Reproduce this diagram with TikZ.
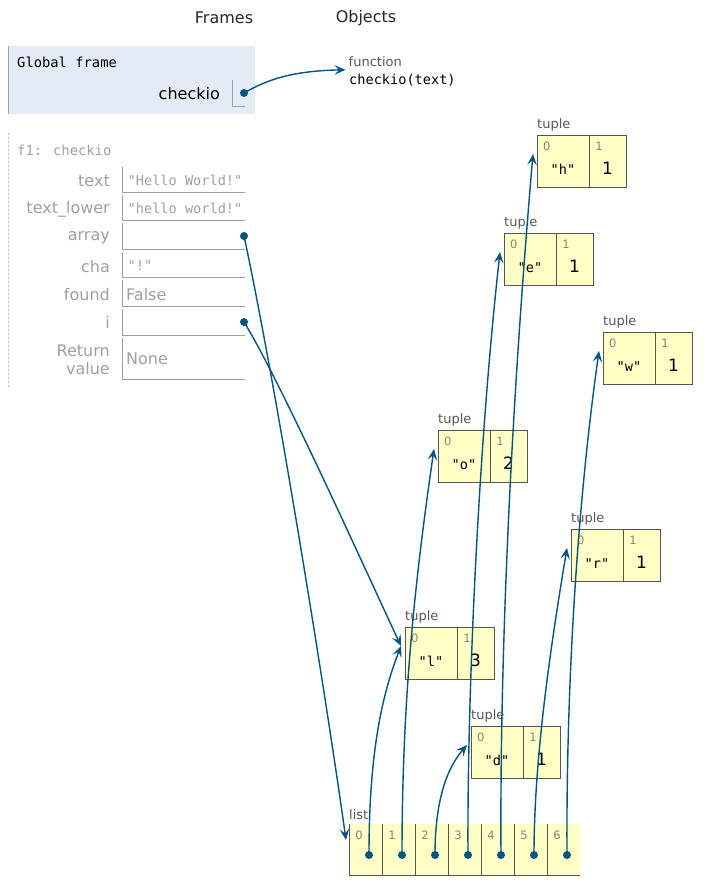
\documentclass[tikz,border=0pt]{standalone}
\usepackage{fontspec}
\setmainfont{DejaVu Sans}
\newfontfamily\monof{DejaVu Sans Mono}
\usetikzlibrary{arrows.meta,calc}
\definecolor{ptrc}{HTML}{005583}
\definecolor{gfbg}{HTML}{E2EBF6}
\definecolor{tfill}{HTML}{FFFFC6}
\definecolor{tborder}{HTML}{555555}
\definecolor{lgray}{HTML}{A0A0A0}
\definecolor{typec}{HTML}{5E5650}
\definecolor{idxc}{HTML}{8A8276}
\newcommand\fs[1]{\fontsize{#1}{#1}\selectfont}
\newcommand\mytup[5]{%
  \node[tbox] (#1) at (#2,#3) {};
  \draw[tline] ($(#1.north west)+(52,0)$) -- ($(#1.south west)+(52,0)$);
  \node[typelab] (#1-lab) at ($(#1.north west)+(0,-7)$) {tuple};
  \node[idx] (#1-i0) at ($(#1.north west)+(9.7,11.7)$) {0};
  \node[idx] (#1-i1) at ($(#1.north west)+(62,11.7)$) {1};
  \node[strv] (#1-v0) at ($(#1.north west)+(26,39)$) {"#4"};
  \node[numv] (#1-v1) at ($(#1.north west)+(70.5,39.5)$) {#5};
  \coordinate (#1-in) at ($(#1.north west)+(-4,19)$);
}
\begin{document}
\begin{tikzpicture}[x=1pt,y=-1pt,
  ptr/.style={draw=ptrc, line width=1.4pt, -{Stealth[length=11pt,width=9.5pt,inset=4.5pt]}},
  dot/.style={circle, fill=ptrc, inner sep=0pt, minimum size=8pt},
  tbox/.style={draw=tborder, fill=tfill, line width=1pt, minimum width=89pt, minimum height=52pt, anchor=north west, inner sep=0pt},
  tline/.style={draw=tborder, line width=1pt},
  vline/.style={draw=lgray, line width=1pt},
  typelab/.style={anchor=base west, inner sep=0pt, text=typec, font=\fs{13}},
  idx/.style={inner sep=0pt, text=idxc, font=\fs{11.5}},
  strv/.style={anchor=base, inner sep=0pt, font=\monof\fs{13.6}},
  numv/.style={anchor=base, inner sep=0pt, font=\fs{17}},
  vlab/.style={anchor=east, inner sep=0pt, text=lgray, font=\fs{16}},
  vvalm/.style={anchor=west, inner sep=0pt, text=lgray, font=\monof\fs{13.6}},
  vvals/.style={anchor=west, inner sep=0pt, text=lgray, font=\fs{16}},
  head/.style={inner sep=0pt, font=\fs{16}, text=black!85}
]
\useasboundingbox (0,0) rectangle (719,889);
\fill[white] (0,0) rectangle (719,889);

% headers
\node[head] (hframes) at (224,18) {Frames};
\node[head] (hobjects) at (366,18) {Objects};

% global frame
\fill[gfbg] (8,46) rectangle (255,114);
\draw[draw=lgray, line width=1pt] (8.5,46) -- (8.5,114);
\node[anchor=west, inner sep=0pt, font=\monof\fs{13.8}] (gtitle) at (17,62.5) {Global frame};
\node[anchor=east, inner sep=0pt, font=\fs{16}] (gchk) at (220,94) {checkio};
\draw[vline] (232.5,80) -- (232.5,106) -- (245,106);
\node[dot] (gdot) at (244,93) {};

% function object
\node[anchor=west, inner sep=0pt, font=\fs{13}, text=typec] (fnlab) at (348.5,61.5) {function};
\node[anchor=west, inner sep=0pt, font=\monof\fs{13.6}] (fnval) at (349,80) {checkio(text)};
\coordinate (fn-in) at ($(fnlab.south west)+(-3,3)$);
\draw[ptr] (gdot.center) .. controls (270,78) and (295,71) .. (fn-in);

% f1 frame
\draw[draw=lgray!70, line width=1pt, dash pattern=on 2pt off 2pt] (8.5,133) -- (8.5,387);
\node[anchor=west, inner sep=0pt, font=\monof\fs{13.8}, text=lgray] (ftitle) at (17,150) {f1: checkio};

\node[vlab] (ltext) at (110,181) {text};
\node[vlab] (llower) at (110,209) {text\_lower};
\node[vlab] (larray) at (110,237.5) {array};
\node[vlab] (lcha) at (110,266.5) {cha};
\node[vlab] (lfound) at (110,294.3) {found};
\node[vlab] (li) at (110,322.5) {i};
\node[vlab, align=right, font=\fontsize{16}{18}\selectfont] (lret) at (110,360) {Return\\value};

\draw[vline] (122.5,167) -- (122.5,192.3) -- (245,192.3);
\draw[vline] (122.5,195) -- (122.5,220.3) -- (245,220.3);
\draw[vline] (122.5,223) -- (122.5,249.3) -- (245,249.3);
\draw[vline] (122.5,251.7) -- (122.5,277.3) -- (245,277.3);
\draw[vline] (122.5,280) -- (122.5,306) -- (245,306);
\draw[vline] (122.5,308.7) -- (122.5,335.3) -- (245,335.3);
\draw[vline] (122.5,338) -- (122.5,379.3) -- (245,379.3);

\node[vvalm] (vtext) at (127.5,180) {"Hello World!"};
\node[vvalm] (vlower) at (127.5,208) {"hello world!"};
\node[vvalm] (vcha) at (127.5,265.5) {"!"};
\node[vvals] (vfound) at (126,294.3) {False};
\node[vvals] (vret) at (126,359) {None};
\node[dot] (adot) at (244,236) {};
\node[dot] (idot) at (244,322) {};

% tuples
\mytup{th}{537}{135}{h}{1}
\mytup{te}{504}{233}{e}{1}
\mytup{tw}{603}{332}{w}{1}
\mytup{to}{438}{430}{o}{2}
\mytup{tr}{571}{529}{r}{1}
\mytup{tl}{405}{627}{l}{3}
\mytup{td}{471}{726}{d}{1}

% list
\node[fill=tfill, minimum width=231pt, minimum height=51.5pt, anchor=north west, inner sep=0pt] (lst) at (349,824) {};
\node[typelab] (lstlab) at ($(lst.north west)+(0,-5)$) {list};
\foreach \i in {0,...,6} {
  \draw[tline] ($(lst.north west)+(33*\i,0)$) -- ($(lst.south west)+(33*\i,0)$);
  \node[idx] (li\i) at ($(lst.north west)+(33*\i+10,11)$) {\i};
  \node[dot] (d\i) at ($(lst.north west)+(33*\i+20,31)$) {};
}
\draw[tline] (lst.south west) -- (lst.south east);
\coordinate (lst-in) at ($(lst.north west)+(-3,16)$);

% pointers
\draw[ptr] (adot.center) .. controls (275,380) and (325,690) .. (lst-in);
\draw[ptr] (idot.center) .. controls (280,380) and (370,580) .. (tl-in);
\draw[ptr] (d0.center) .. controls (369,760) and (380,700) .. (tl-in);
\draw[ptr] (d1.center) .. controls (402,700) and (415,580) .. (to-in);
\draw[ptr] (d2.center) .. controls (435,800) and (447,768) .. (td-in);
\draw[ptr] (d3.center) .. controls (467,700) and (478,450) .. (te-in);
\draw[ptr] (d4.center) .. controls (500,720) and (505,480) .. (th-in);
\draw[ptr] (d5.center) .. controls (534,760) and (550,650) .. (tr-in);
\draw[ptr] (d6.center) .. controls (566,680) and (578,500) .. (tw-in);
\end{tikzpicture}
\end{document}
